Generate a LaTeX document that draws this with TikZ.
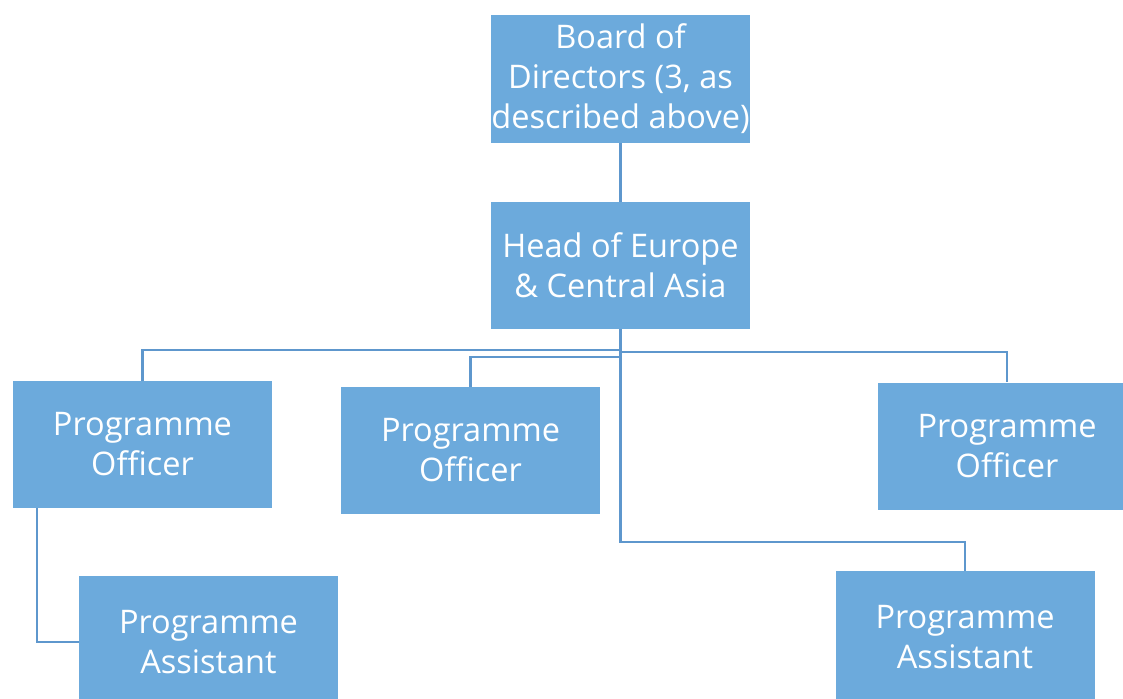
\documentclass[tikz,border=0pt]{standalone}
\usepackage{fontspec}
\setmainfont{Open Sans}
\usepackage{xcolor}
\usepackage{tikz}
\usetikzlibrary{calc}
\definecolor{boxblue}{RGB}{108,170,220}
\definecolor{lineblue}{RGB}{94,151,205}
\tikzset{
  post/.style={fill=boxblue, text=white, align=center, inner sep=0pt,
    minimum width=259pt, minimum height=127pt,
    font=\fontsize{32.5}{40}\selectfont},
  link/.style={draw=lineblue, line width=2.5pt}
}

\begin{document}
\begin{tikzpicture}[x=1pt, y=-1pt]
\useasboundingbox (0,0) rectangle (1123,698);
\node[post, minimum height=128pt] at (620.5, 79)   (board) {Board of\\Directors (3, as\\described above)};
\node[post] at (620.5, 265.5) (head) {Head of Europe\\\& Central Asia};
\node[post] at (142.5, 444.5) (po1) {Programme\\Officer};
\node[post] at (470.5, 450.5) (po2) {Programme\\Officer};
\node[post] at (1007, 446) (po3) {Programme\\Officer};
\node[post, minimum height=132pt] at (208.5, 642) (pa1) {Programme\\Assistant};
\node[post, minimum height=132pt] at (965, 637) (pa2) {Programme\\Assistant};
\draw[link] (board.south) -- (head.north);
\draw[link] (head.south) -- ++(0,21) -| (po1.north);
\draw[link] (head.south) -- ++(0,28) -| (po2.north);
\draw[link] (head.south) -- ++(0,23) -| (po3.north);
\draw[link] (head.south) -- ++(0,213) -| (pa2.north);
\draw[link] ([xshift=-105.5pt]po1.south) |- (pa1.west);
\end{tikzpicture}
\end{document}
